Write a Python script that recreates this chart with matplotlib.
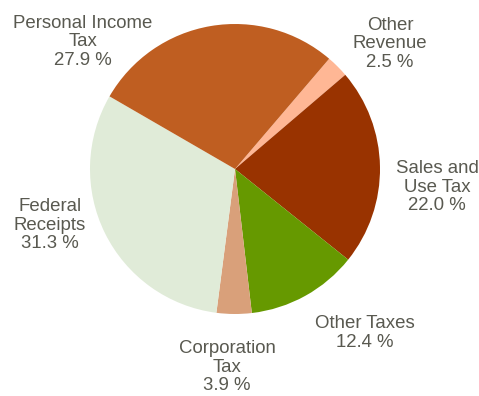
import matplotlib
matplotlib.use("Agg")
import matplotlib.pyplot as plt

# Revenue shares (percent), drawn clockwise
categories = ["Other\nRevenue", "Sales and\nUse Tax", "Other Taxes", "Corporation\nTax",
              "Federal\nReceipts", "Personal Income\nTax"]
shares = [2.5, 22.0, 12.4, 3.9, 31.3, 27.9]
colors = ["#FFB795", "#993300", "#669900", "#D9A07A", "#E0EBD8", "#BF5E21"]

# label anchor points in pixel space (x, y from top)
label_pos = [(390, 44), (437, 187), (365, 333), (227, 367), (50, 225), (83, 42)]

W, H = 479, 396
fig = plt.figure(figsize=(W / 100, H / 100), dpi=100)
ax = fig.add_axes([0, 0, 1, 1])

cx, cy, r = 235, H - 169, 145
ax.pie(shares, colors=colors, startangle=49.5, counterclock=False,
       center=(cx, cy), radius=r, frame=True,
       wedgeprops=dict(linewidth=0))
ax.set_xlim(0, W)
ax.set_ylim(0, H)
ax.set_aspect("equal")
ax.axis("off")

for name, val, (x, y) in zip(categories, shares, label_pos):
    ax.text(x, H - y, f"{name}\n{val:.1f} %", ha="center", va="center",
            fontsize=13.4, color="#595950", family="Liberation Sans",
            linespacing=1.08)

fig.savefig("out.png", dpi=100)
